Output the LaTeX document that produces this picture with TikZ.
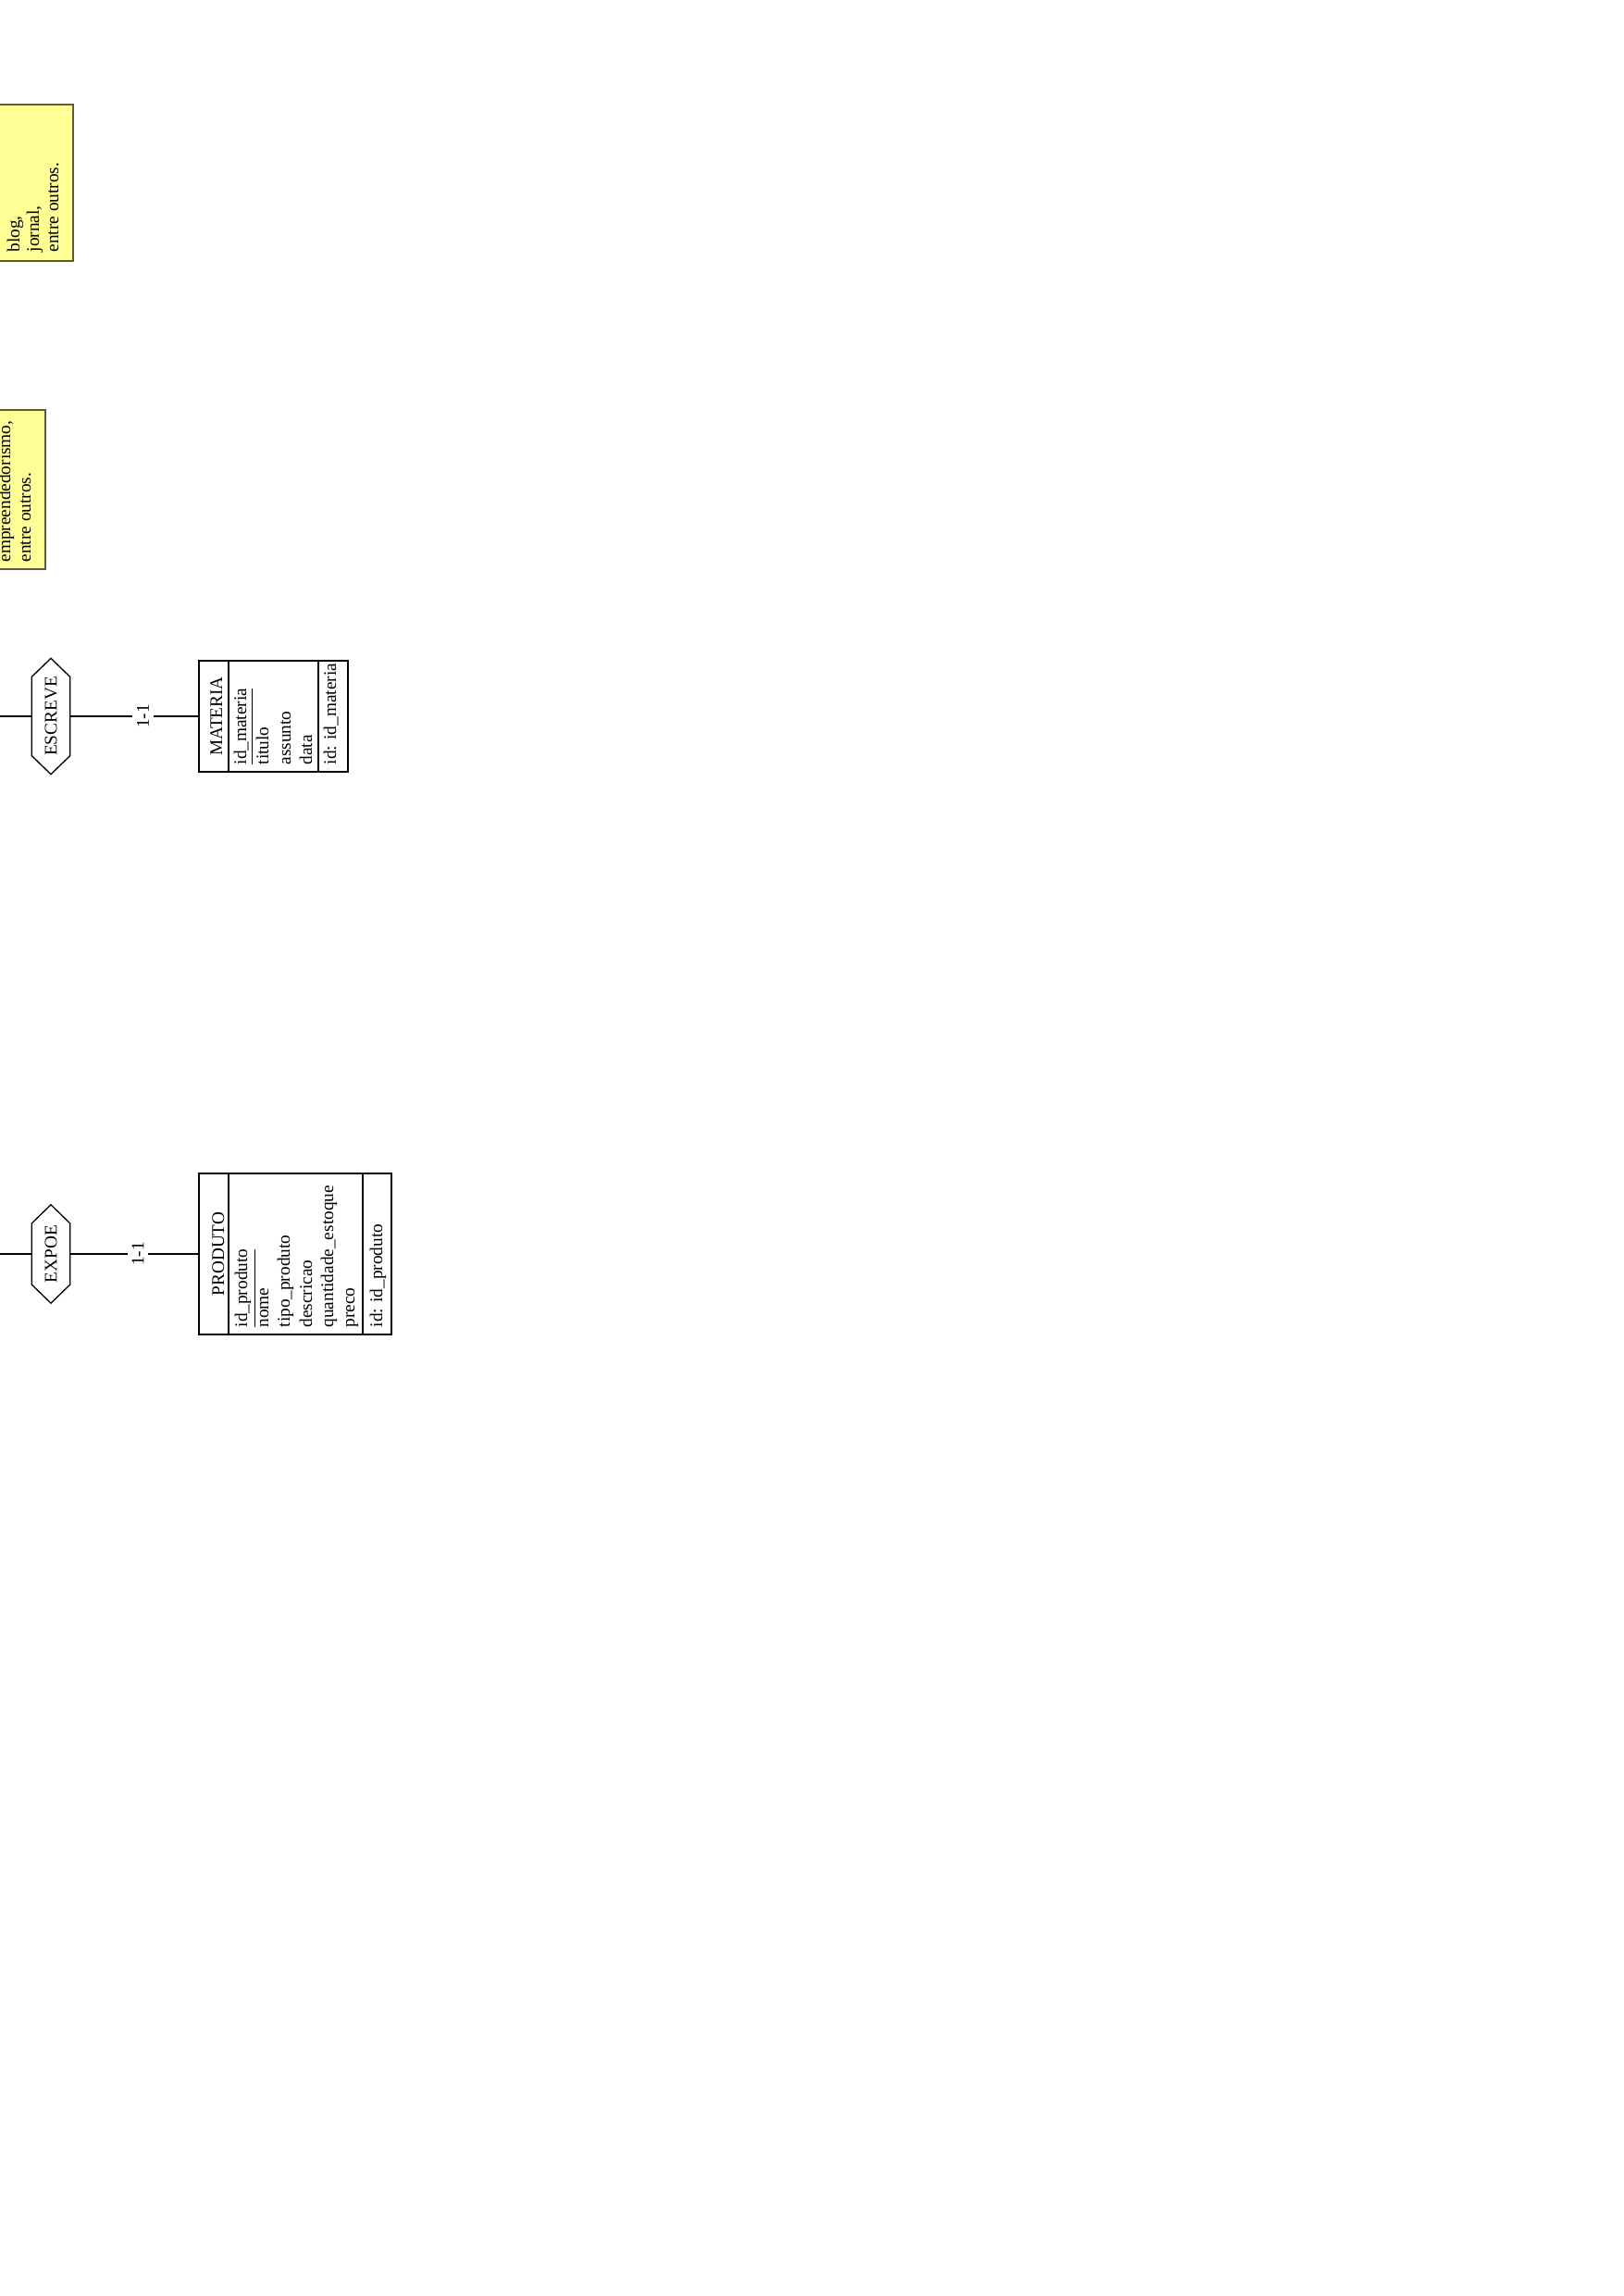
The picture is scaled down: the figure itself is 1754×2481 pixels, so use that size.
\documentclass[tikz,border=0pt]{standalone}
\usepackage{fontspec}
\setmainfont{Liberation Serif}
\usetikzlibrary{calc}
\definecolor{notefill}{RGB}{255,255,150}
\definecolor{notedraw}{RGB}{95,90,55}
\begin{document}
\begin{tikzpicture}[x=0.3394pt, y=-0.3394pt, line width=0.45pt,
  every node/.style={font=\fontsize{6.55}{7.8}\selectfont, inner sep=0pt},
  txt/.style={rotate=90, anchor=base west},
  hdr/.style={rotate=90, anchor=base},
  notebox/.style={draw=notedraw, fill=notefill, line width=0.6pt},
  ent/.style={draw, inner sep=0pt},
  hexnode/.style={inner sep=0pt, minimum width=13.58pt},
  card/.style={fill=white, inner sep=1.7pt, rotate=90}]
\useasboundingbox (0,0) rectangle (1754,2481);
\clip (0,0) rectangle (1754,2481);
% notes
\path[notebox] (-40,113) rectangle (79,282);
\node[txt] (n1a) at (21,273) {blog,};
\node[txt] (n1b) at (42,273) {jornal,};
\node[txt] (n1c) at (63,273) {entre outros.};
\path[notebox] (-40,443) rectangle (49,615);
\node[txt] (n2a) at (11,608) {empreendedorismo,};
\node[txt] (n2b) at (33,608) {entre outros.};
% ESCREVE / MATERIA
\coordinate (L1) at (0,774);
\node[hexnode, minimum height=42.09pt] (escreve) at (55,774) {};
\draw (escreve.north) -- ([yshift=-6.79pt]escreve.north west) -- ([yshift=6.79pt]escreve.south west)
  -- (escreve.south) -- ([yshift=6.79pt]escreve.south east) -- ([yshift=-6.79pt]escreve.north east) -- cycle;
\node[hdr] (escreve-t) at (61.5,774) {ESCREVE};
\node[ent, minimum width=54.64pt, minimum height=40.73pt] (materia) at (295.5,774) {};
\draw (247,714) -- (247,834);
\draw (344,714) -- (344,834);
\node[hdr] (materia-h) at (240,774) {MATERIA};
\node[txt] (m1) at (266,827) {\underline{id\_materia}};
\node[txt] (m2) at (290,827) {titulo};
\node[txt] (m3) at (314,827) {assunto};
\node[txt] (m4) at (337,827) {data};
\node[txt] (m5) at (363,827) {id: id\_materia};
\draw (L1) -- (escreve.west);
\draw (escreve.east) -- node[card, pos=0.568] (c1) {1-1} (materia.west);
% EXPOE / PRODUTO
\coordinate (L2) at (0,1355);
\node[hexnode, minimum height=35.64pt] (expoe) at (55,1355) {};
\draw (expoe.north) -- ([yshift=-6.79pt]expoe.north west) -- ([yshift=6.79pt]expoe.south west)
  -- (expoe.south) -- ([yshift=6.79pt]expoe.south east) -- ([yshift=-6.79pt]expoe.north east) -- cycle;
\node[hdr] (expoe-t) at (61.5,1355) {EXPOE};
\node[ent, minimum width=70.6pt, minimum height=59.06pt] (produto) at (319,1355) {};
\draw (247,1268) -- (247,1442);
\draw (392,1268) -- (392,1442);
\node[hdr] (produto-h) at (242,1355) {PRODUTO};
\node[txt] (p1) at (267,1435) {\underline{id\_produto}};
\node[txt] (p2) at (290,1435) {nome};
\node[txt] (p3) at (313,1435) {tipo\_produto};
\node[txt] (p4) at (337,1435) {descricao};
\node[txt] (p5) at (360,1435) {quantidade\_estoque};
\node[txt] (p6) at (383,1435) {preco};
\node[txt] (p7) at (413,1435) {id: id\_produto};
\draw (L2) -- (expoe.west);
\draw (expoe.east) -- node[card, pos=0.529] (c2) {1-1} (produto.west);
\end{tikzpicture}
\end{document}
